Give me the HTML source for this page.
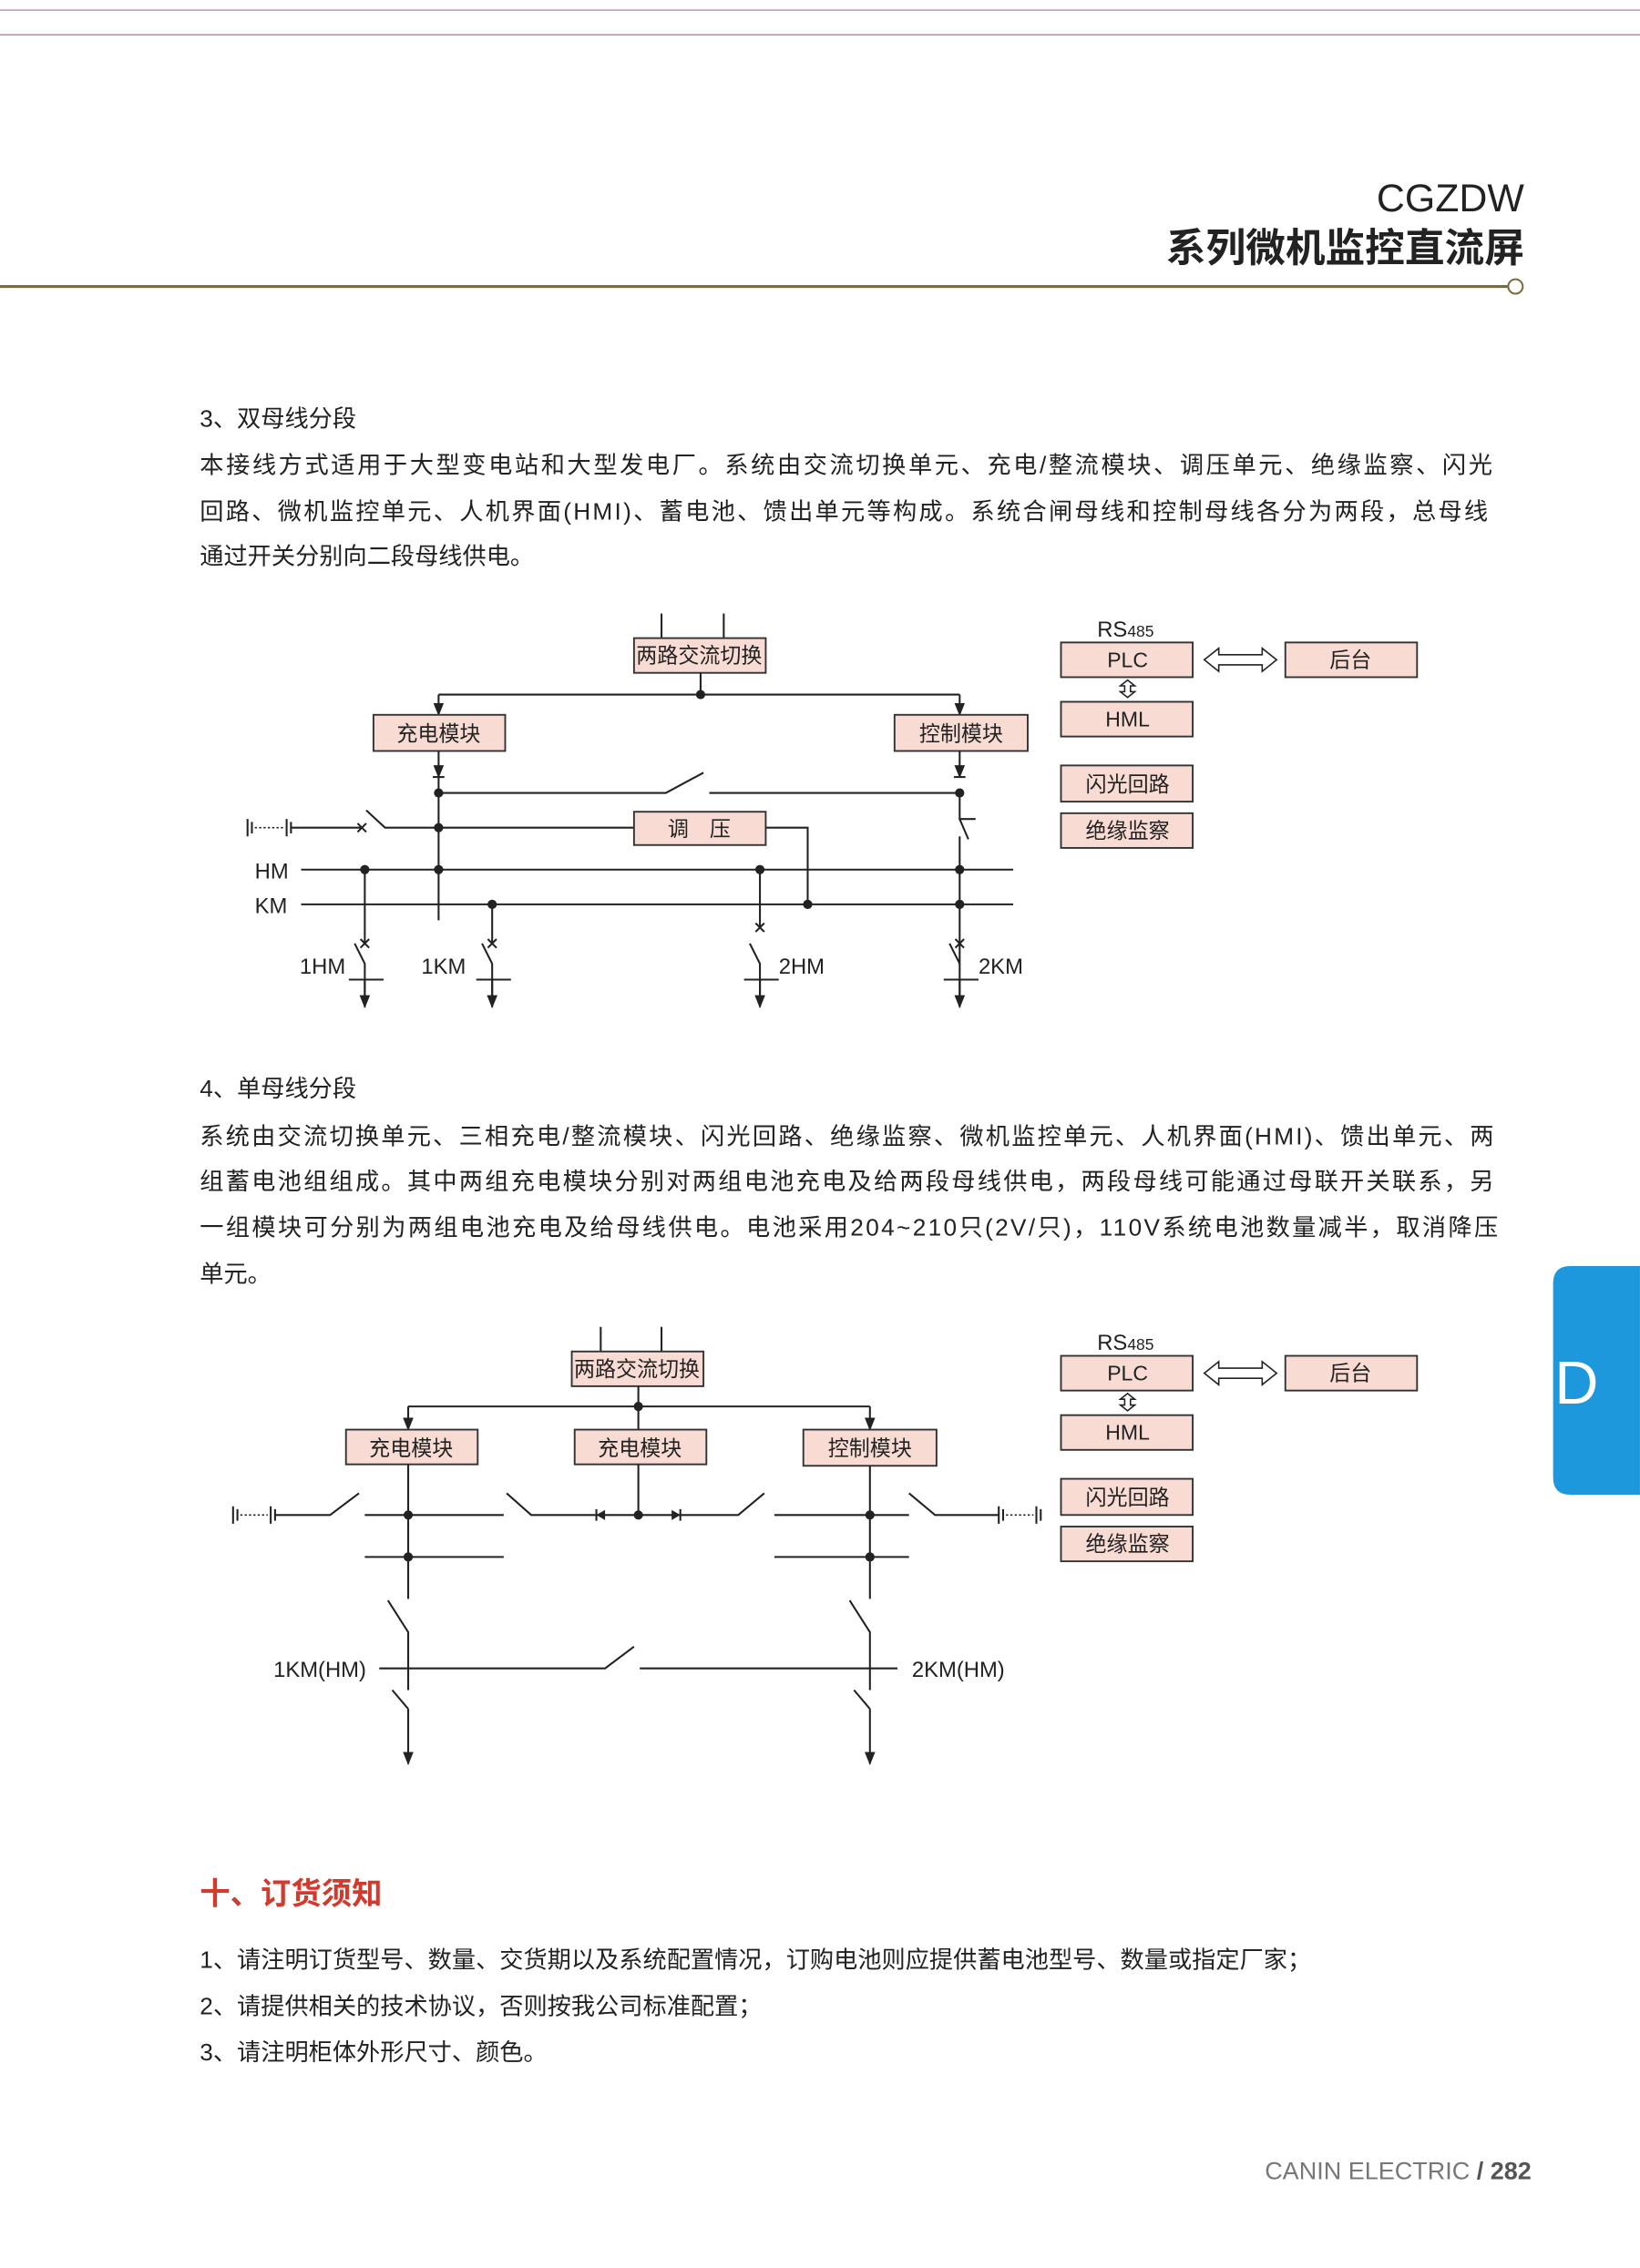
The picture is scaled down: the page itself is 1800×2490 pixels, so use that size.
<!DOCTYPE html>
<html><head><meta charset="utf-8"><style>
html,body{margin:0;padding:0;background:#fff}
svg{display:block}
text{font-family:"Liberation Sans","Noto Sans CJK SC",sans-serif;fill:#222}
.bx{fill:#f8dcd4;stroke:#333;stroke-width:1.2}
.bt{font-size:14.5px;text-anchor:middle}
.ln{stroke:#222;stroke-width:1.3;fill:none}
.p{font-size:16.5px}
</style></head><body>
<svg width="1800" height="2490" viewBox="0 0 1133 1567.4" xmlns="http://www.w3.org/2000/svg">
<defs>
<marker id="ar" viewBox="0 0 10 10" refX="9" refY="5" markerWidth="7" markerHeight="7" orient="auto"><path d="M0,1 L10,5 L0,9 z" fill="#222"/></marker>
</defs>
<line x1="0" y1="7" x2="1133" y2="7" stroke="#c98fb0" stroke-width="1"/>
<line x1="0" y1="24" x2="1133" y2="24" stroke="#b88e98" stroke-width="1"/>
<text x="1053" y="146" font-size="27" text-anchor="end" style="font-family:'Liberation Sans',sans-serif">CGZDW</text>
<text x="1053" y="181" font-size="27.5" text-anchor="end" font-weight="bold">系列微机监控直流屏</text>
<line x1="0" y1="198" x2="1042" y2="198" stroke="#7a6c3c" stroke-width="2"/>
<circle cx="1047" cy="198" r="5" fill="#fff" stroke="#7a6c3c" stroke-width="1.3"/>

<text x="138" y="295" class="p">3、双母线分段</text>
<text x="138" y="327" class="p" textLength="893">本接线方式适用于大型变电站和大型发电厂。系统由交流切换单元、充电/整流模块、调压单元、绝缘监察、闪光</text>
<text x="138" y="359" class="p" textLength="890">回路、微机监控单元、人机界面(HMI)、蓄电池、馈出单元等构成。系统合闸母线和控制母线各分为两段，总母线</text>
<text x="138" y="390" class="p">通过开关分别向二段母线供电。</text>

<!-- Diagram 1 -->
<g>
<line class="ln" x1="457" y1="424" x2="457" y2="441"/><line class="ln" x1="500" y1="424" x2="500" y2="441"/>
<rect class="bx" x="438" y="441" width="91" height="24"/><text class="bt" x="483" y="458">两路交流切换</text>
<line class="ln" x1="484" y1="465" x2="484" y2="480"/><circle cx="484" cy="480" r="3.2" fill="#222"/>
<path class="ln" d="M303,480 H663"/>
<line class="ln" x1="303" y1="480" x2="303" y2="494" marker-end="url(#ar)"/>
<line class="ln" x1="663" y1="480" x2="663" y2="494" marker-end="url(#ar)"/>
<rect class="bx" x="258" y="494" width="91" height="25"/><text class="bt" x="303" y="512">充电模块</text>
<rect class="bx" x="618" y="494" width="92" height="25"/><text class="bt" x="664" y="512">控制模块</text>
<line class="ln" x1="303" y1="519" x2="303" y2="537" marker-end="url(#ar)"/><line class="ln" x1="299" y1="537" x2="307" y2="537"/>
<line class="ln" x1="663" y1="519" x2="663" y2="537" marker-end="url(#ar)"/><line class="ln" x1="659" y1="537" x2="667" y2="537"/>
<line class="ln" x1="303" y1="537" x2="303" y2="636"/>
<path class="ln" d="M303,548 H460 L486,534 M490,548 H663"/>
<circle cx="303" cy="548" r="3.2" fill="#222"/><circle cx="663" cy="548" r="3.2" fill="#222"/>
<path class="ln" d="M171,566 V578 M174,568 V576 M198,566 V578 M201,568 V576"/>
<line x1="176" y1="572" x2="196" y2="572" stroke="#222" stroke-width="1" stroke-dasharray="1.5,1.5"/>
<path class="ln" d="M201,572 H250 M247,569 L253,575 M253,569 L247,575 M253,560 L266,572 H438"/>
<circle cx="303" cy="572" r="3.2" fill="#222"/>
<rect class="bx" x="438" y="561" width="91" height="23"/><text class="bt" x="483" y="578">调　压</text>
<path class="ln" d="M529,572 H558 V625"/>
<path class="ln" d="M663,548 V566 L674,566 M663,566 L669,580 M663,578 V695"/>
<text x="176" y="607" font-size="15">HM</text><text x="176" y="631" font-size="15">KM</text>
<line class="ln" x1="208" y1="601" x2="700" y2="601"/>
<line class="ln" x1="208" y1="625" x2="700" y2="625"/>
<g fill="#222"><circle cx="252" cy="601" r="3.2"/><circle cx="303" cy="601" r="3.2"/><circle cx="525" cy="601" r="3.2"/><circle cx="663" cy="601" r="3.2"/>
<circle cx="340" cy="625" r="3.2"/><circle cx="558" cy="625" r="3.2"/><circle cx="663" cy="625" r="3.2"/></g>
<path class="ln" d="M252,601 V652 M249,649 L255,655 M255,649 L249,655 M245,652 L252,666 V695"/>
<line class="ln" x1="241" y1="677" x2="265" y2="677"/><line class="ln" x1="252" y1="677" x2="252" y2="696" marker-end="url(#ar)"/>
<path class="ln" d="M340,625 V652 M337,649 L343,655 M343,649 L337,655 M333,652 L340,666 V695"/>
<line class="ln" x1="329" y1="677" x2="353" y2="677"/><line class="ln" x1="340" y1="677" x2="340" y2="696" marker-end="url(#ar)"/>
<path class="ln" d="M525,601 V641 M522,638 L528,644 M528,638 L522,644 M518,652 L525,666 V695"/>
<line class="ln" x1="514" y1="677" x2="538" y2="677"/><line class="ln" x1="525" y1="677" x2="525" y2="696" marker-end="url(#ar)"/>
<path class="ln" d="M660,649 L666,655 M666,649 L660,655 M656,652 L663,666"/>
<line class="ln" x1="652" y1="677" x2="676" y2="677"/><line class="ln" x1="663" y1="677" x2="663" y2="696" marker-end="url(#ar)"/>
<g font-size="15"><text x="207" y="673">1HM</text><text x="291" y="673">1KM</text><text x="538" y="673">2HM</text><text x="676" y="673">2KM</text></g>
</g>

<g>
<text x="758" y="440" font-size="15">RS<tspan font-size="11">485</tspan></text>
<rect class="bx" x="733" y="444" width="91" height="24"/><text class="bt" x="779" y="461">PLC</text>
<rect class="bx" x="888" y="444" width="91" height="24"/><text class="bt" x="933" y="461">后台</text>
<path d="M832,456 L842,448 V452.5 H872 V448 L882,456 L872,464 V459.5 H842 V464 Z" fill="#fff" stroke="#222" stroke-width="1"/>
<path d="M779,470 L784,474 H781 V478 H784 L779,482 L774,478 H777 V474 H774 Z" fill="#fff" stroke="#222" stroke-width="1"/>
<rect class="bx" x="733" y="485" width="91" height="24"/><text class="bt" x="779" y="502">HML</text>
<rect class="bx" x="733" y="529" width="91" height="25"/><text class="bt" x="779" y="547">闪光回路</text>
<rect class="bx" x="733" y="562" width="91" height="24"/><text class="bt" x="779" y="579">绝缘监察</text>
</g>

<text x="138" y="758" class="p">4、单母线分段</text>
<text x="138" y="791" class="p" textLength="894">系统由交流切换单元、三相充电/整流模块、闪光回路、绝缘监察、微机监控单元、人机界面(HMI)、馈出单元、两</text>
<text x="138" y="822" class="p" textLength="894">组蓄电池组组成。其中两组充电模块分别对两组电池充电及给两段母线供电，两段母线可能通过母联开关联系，另</text>
<text x="138" y="854" class="p" textLength="897">一组模块可分别为两组电池充电及给母线供电。电池采用204~210只(2V/只)，110V系统电池数量减半，取消降压</text>
<text x="138" y="886" class="p">单元。</text>

<!-- Diagram 2 -->
<g>
<line class="ln" x1="415" y1="917" x2="415" y2="934"/><line class="ln" x1="457" y1="917" x2="457" y2="934"/>
<rect class="bx" x="395" y="934" width="91" height="24"/><text class="bt" x="440" y="951">两路交流切换</text>
<line class="ln" x1="441" y1="958" x2="441" y2="988"/><circle cx="441" cy="972" r="3.2" fill="#222"/>
<path class="ln" d="M282,972 H601"/>
<line class="ln" x1="282" y1="972" x2="282" y2="988" marker-end="url(#ar)"/>
<line class="ln" x1="601" y1="972" x2="601" y2="988" marker-end="url(#ar)"/>
<rect class="bx" x="239" y="988" width="91" height="24"/><text class="bt" x="284" y="1006">充电模块</text>
<rect class="bx" x="397" y="988" width="91" height="24"/><text class="bt" x="442" y="1006">充电模块</text>
<rect class="bx" x="555" y="988" width="92" height="25"/><text class="bt" x="601" y="1006">控制模块</text>
<line class="ln" x1="282" y1="1012" x2="282" y2="1105"/>
<line class="ln" x1="441" y1="1012" x2="441" y2="1047"/>
<line class="ln" x1="601" y1="1013" x2="601" y2="1105"/>
<path class="ln" d="M161,1041 V1053 M164,1043 V1051 M187,1041 V1053 M190,1043 V1051"/>
<line x1="166" y1="1047" x2="185" y2="1047" stroke="#222" stroke-width="1" stroke-dasharray="1.5,1.5"/>
<path class="ln" d="M690,1041 V1053 M693,1043 V1051 M716,1041 V1053 M719,1043 V1051"/>
<line x1="695" y1="1047" x2="714" y2="1047" stroke="#222" stroke-width="1" stroke-dasharray="1.5,1.5"/>
<path class="ln" d="M190,1047 H228 L248,1032 M252,1047 H348 M350,1032 L367,1047 H510 L528,1032 M535,1047 H628 M628,1032 L646,1047 H690"/>
<path d="M412,1047 L418,1043.5 V1050.5 Z M470,1047 L464,1043.5 V1050.5 Z" fill="#222"/>
<path class="ln" d="M412,1043 V1051 M470,1043 V1051"/>
<path class="ln" d="M252,1076 H348 M535,1076 H628"/>
<g fill="#222"><circle cx="282" cy="1047" r="3.2"/><circle cx="441" cy="1047" r="3.2"/><circle cx="601" cy="1047" r="3.2"/>
<circle cx="282" cy="1076" r="3.2"/><circle cx="601" cy="1076" r="3.2"/></g>
<path class="ln" d="M268,1106 L282,1128 V1168 M271,1168 L282,1181"/>
<line class="ln" x1="282" y1="1181" x2="282" y2="1219" marker-end="url(#ar)"/>
<path class="ln" d="M587,1106 L601,1128 V1168 M590,1168 L601,1181"/>
<line class="ln" x1="601" y1="1181" x2="601" y2="1219" marker-end="url(#ar)"/>
<path class="ln" d="M262,1153 H418 L438,1138 M442,1153 H620"/>
<g font-size="15"><text x="253" y="1159" text-anchor="end">1KM(HM)</text><text x="630" y="1159">2KM(HM)</text></g>
</g>

<g>
<text x="758" y="933" font-size="15">RS<tspan font-size="11">485</tspan></text>
<rect class="bx" x="733" y="937" width="91" height="24"/><text class="bt" x="779" y="954">PLC</text>
<rect class="bx" x="888" y="937" width="91" height="24"/><text class="bt" x="933" y="954">后台</text>
<path d="M832,949 L842,941 V945.5 H872 V941 L882,949 L872,957 V952.5 H842 V957 Z" fill="#fff" stroke="#222" stroke-width="1"/>
<path d="M779,963 L784,967 H781 V971 H784 L779,975 L774,971 H777 V967 H774 Z" fill="#fff" stroke="#222" stroke-width="1"/>
<rect class="bx" x="733" y="978" width="91" height="24"/><text class="bt" x="779" y="995">HML</text>
<rect class="bx" x="733" y="1022" width="91" height="25"/><text class="bt" x="779" y="1040">闪光回路</text>
<rect class="bx" x="733" y="1055" width="91" height="24"/><text class="bt" x="779" y="1072">绝缘监察</text>
</g>

<path d="M1133,875 H1085 Q1073,875 1073,887 V1021 Q1073,1033 1085,1033 H1133 Z" fill="#1d98dc"/>
<text x="1074" y="970" font-size="42" style="fill:#fff">D</text>

<text x="138" y="1316" font-size="21" font-weight="bold" style="fill:#d33a2e">十、订货须知</text>
<text x="138" y="1360" class="p">1、请注明订货型号、数量、交货期以及系统配置情况，订购电池则应提供蓄电池型号、数量或指定厂家；</text>
<text x="138" y="1392" class="p">2、请提供相关的技术协议，否则按我公司标准配置；</text>
<text x="138" y="1424" class="p">3、请注明柜体外形尺寸、颜色。</text>

<text x="1058" y="1506" font-size="17" text-anchor="end"><tspan style="fill:#777">CANIN ELECTRIC </tspan><tspan style="fill:#555;font-weight:bold">/ 282</tspan></text>
</svg>
</body></html>
